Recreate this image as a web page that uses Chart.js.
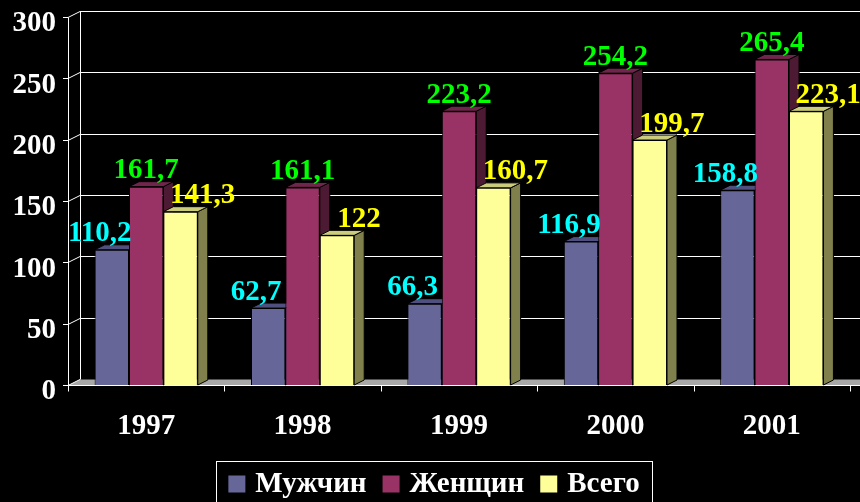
<!DOCTYPE html>
<html>
<head>
<meta charset="utf-8">
<script src="https://cdn.jsdelivr.net/npm/chart.js@4.4.1/dist/chart.umd.min.js"></script>
<style>
html,body{margin:0;padding:0;background:#000;}
#wrap{width:860px;height:502px;position:relative;}
</style>
</head>
<body>
<div id="wrap"><canvas id="c" width="860" height="502"></canvas></div>
<script>
// ---- data ----
const categories = ['1997', '1998', '1999', '2000', '2001'];
const seriesNames = ['Мужчин', 'Женщин', 'Всего'];
const men   = [110.2, 62.7, 66.3, 116.9, 158.8];
const women = [161.7, 161.1, 223.2, 254.2, 265.4];
const total = [141.3, 122, 160.7, 199.7, 223.1];
const yTicks = [0, 50, 100, 150, 200, 250, 300];

// ---- styles ----
const SERIF = '"Liberation Serif", "Times New Roman", serif';
const frontColors = ['#666699', '#993366', '#ffff99'];
const sideColors  = ['#33335c', '#4d1a33', '#80804d'];
const topColors   = ['#50507e', '#70254b', '#cccc7d'];
const labelColors = ['#00ffff', '#00ff00', '#ffff00'];
const labelDx = [-12, 0, 22];
const labelDy = -16;
const BAR_DX = 10, BAR_DY = 5;   // bar depth
const WALL_DX = 12, WALL_DY = 6; // wall depth

const fmt = v => String(v).replace('.', ',');

const threeD = {
  id: 'threeD',
  beforeDatasetsDraw(chart) {
    const ctx = chart.ctx;
    const ca = chart.chartArea;
    const ys = chart.scales.y;
    ctx.save();
    const yTop = Math.round(ys.getPixelForValue(300)) + 0.5;
    const yBot = Math.round(ys.getPixelForValue(0)) + 0.5;
    // floor
    ctx.fillStyle = '#a8a8a8';
    ctx.beginPath();
    ctx.moveTo(ca.left, yBot);
    ctx.lineTo(ca.left + WALL_DX, yBot - WALL_DY);
    ctx.lineTo(chart.width + WALL_DX, yBot - WALL_DY);
    ctx.lineTo(chart.width, yBot);
    ctx.closePath();
    ctx.fill();
    // back wall gridlines
    ctx.strokeStyle = '#ffffff';
    ctx.lineWidth = 1;
    yTicks.forEach(v => {
      const y = Math.round(ys.getPixelForValue(v)) + 0.5;
      if (v > 0) {
        ctx.beginPath();
        ctx.moveTo(ca.left + WALL_DX, y - WALL_DY);
        ctx.lineTo(chart.width, y - WALL_DY);
        ctx.stroke();
      }
      ctx.beginPath();
      ctx.moveTo(ca.left - 5, y);
      ctx.lineTo(ca.left, y);
      ctx.lineTo(ca.left + WALL_DX, y - WALL_DY);
      ctx.stroke();
    });
    // left wall edges
    ctx.beginPath();
    ctx.moveTo(ca.left + WALL_DX + 0.5, yTop - WALL_DY);
    ctx.lineTo(ca.left + WALL_DX + 0.5, yBot - WALL_DY);
    ctx.moveTo(ca.left + 0.5, yTop);
    ctx.lineTo(ca.left + 0.5, yBot);
    ctx.stroke();
    // front base axis + category ticks
    ctx.beginPath();
    ctx.moveTo(ca.left, yBot);
    ctx.lineTo(chart.width, yBot);
    const n = categories.length;
    for (let i = 0; i <= n; i++) {
      const x = Math.round(ca.left + (ca.right - ca.left) * i / n) + 0.5;
      ctx.moveTo(x, yBot);
      ctx.lineTo(x, yBot + 6);
    }
    ctx.stroke();

    // bar side and top faces
    ctx.strokeStyle = '#000';
    for (let d = 0; d < chart.data.datasets.length; d++) {
      const meta = chart.getDatasetMeta(d);
      meta.data.forEach(bar => {
        const l = bar.x - bar.width / 2, r = bar.x + bar.width / 2;
        const t = bar.y, b = bar.base;
        ctx.fillStyle = sideColors[d];
        ctx.beginPath();
        ctx.moveTo(r, b);
        ctx.lineTo(r + BAR_DX, b - BAR_DY);
        ctx.lineTo(r + BAR_DX, t - BAR_DY);
        ctx.lineTo(r, t);
        ctx.closePath();
        ctx.fill(); ctx.stroke();
        ctx.fillStyle = topColors[d];
        ctx.beginPath();
        ctx.moveTo(l, t);
        ctx.lineTo(l + BAR_DX, t - BAR_DY);
        ctx.lineTo(r + BAR_DX, t - BAR_DY);
        ctx.lineTo(r, t);
        ctx.closePath();
        ctx.fill(); ctx.stroke();
      });
    }
    ctx.restore();
  },
  afterDatasetsDraw(chart) {
    const ctx = chart.ctx;
    ctx.save();
    ctx.font = 'bold 29px ' + SERIF;
    ctx.textAlign = 'center';
    ctx.textBaseline = 'middle';
    chart.data.datasets.forEach((ds, d) => {
      const meta = chart.getDatasetMeta(d);
      meta.data.forEach((bar, i) => {
        ctx.fillStyle = labelColors[d];
        ctx.fillText(fmt(ds.data[i]), bar.x + labelDx[d], bar.y + labelDy);
      });
    });
    ctx.restore();
  },
  afterDraw(chart) {
    const ctx = chart.ctx;
    ctx.save();
    const boxL = 216, boxT = 461, boxR = 652;
    ctx.strokeStyle = '#ffffff';
    ctx.lineWidth = 1;
    ctx.strokeRect(boxL + 0.5, boxT + 0.5, boxR - boxL, 60);
    ctx.font = 'bold 29px ' + SERIF;
    ctx.textBaseline = 'middle';
    ctx.textAlign = 'left';
    const sq = 17, gapText = 10, gapItem = 16;
    const widths = seriesNames.map(s => ctx.measureText(s).width);
    const totalW = widths.reduce((a, w) => a + sq + gapText + w, 0) + gapItem * (seriesNames.length - 1);
    let x = (boxL + boxR) / 2 - totalW / 2;
    const cy = 485;
    seriesNames.forEach((s, k) => {
      ctx.fillStyle = frontColors[k];
      ctx.fillRect(x, cy - sq / 2 - 1, sq, sq);
      ctx.fillStyle = '#ffffff';
      ctx.fillText(s, x + sq + gapText, cy);
      x += sq + gapText + widths[k] + gapItem;
    });
    ctx.restore();
  }
};

new Chart(document.getElementById('c'), {
  type: 'bar',
  data: {
    labels: categories,
    datasets: [
      { label: seriesNames[0], data: men,   backgroundColor: frontColors[0] },
      { label: seriesNames[1], data: women, backgroundColor: frontColors[1] },
      { label: seriesNames[2], data: total, backgroundColor: frontColors[2] }
    ]
  },
  options: {
    responsive: false,
    animation: false,
    devicePixelRatio: 1,
    layout: { padding: { top: 17, right: 10, left: 0, bottom: 0 } },
    datasets: {
      bar: { categoryPercentage: 0.66, barPercentage: 1.0, borderColor: '#000', borderWidth: 1 }
    },
    plugins: { legend: { display: false }, tooltip: { enabled: false } },
    scales: {
      x: {
        grid: { display: false },
        border: { display: false },
        ticks: { color: '#ffffff', font: { family: SERIF, size: 29, weight: 'bold' }, padding: 16 },
        afterFit: s => { s.height = 502 - 385; }
      },
      y: {
        min: 0, max: 300,
        grid: { display: false },
        border: { display: false },
        ticks: { stepSize: 50, color: '#ffffff', font: { family: SERIF, size: 29, weight: 'bold', lineHeight: 0.6 }, padding: 4, labelOffset: 7 },
        afterFit: s => { s.width = 68; s.paddingTop = 0; s.paddingBottom = 0; }
      }
    }
  },
  plugins: [threeD]
});
</script>
</body>
</html>
